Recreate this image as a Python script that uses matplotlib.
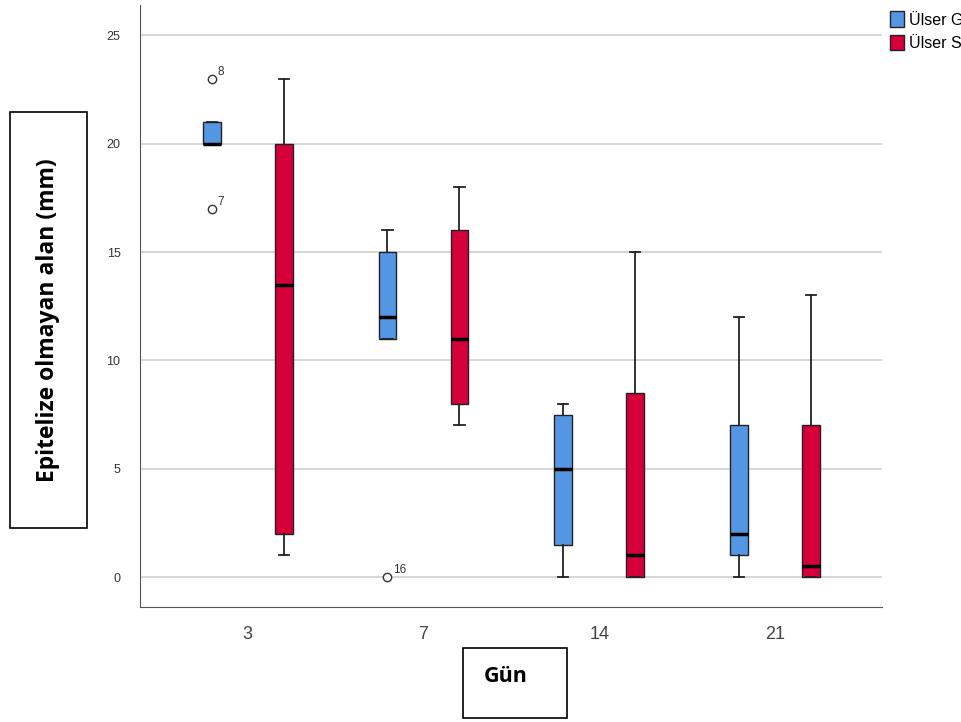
import numpy as np
import matplotlib.pyplot as plt
from matplotlib.patches import Patch, Rectangle

plt.rcParams['font.family'] = ['Liberation Sans', 'DejaVu Sans']

days = ["3", "7", "14", "21"]
groups = ["Ülser G", "Ülser S"]
colors = ["#5596e3", "#d5003a"]

# box stats per day: [G, S]  (whislo, q1, med, q3, whishi)
whislo = [[20, 1], [11, 7], [0, 0], [0, 0]]
q1 = [[20, 2], [11, 8], [1.5, 0], [1, 0]]
med = [[20, 13.5], [12, 11], [5, 1], [2, 0.5]]
q3 = [[21, 20], [15, 16], [7.5, 8.5], [7, 7]]
whishi = [[21, 23], [16, 18], [8, 15], [12, 13]]
fliers = [[[23, 17], []], [[0], []], [[], []], [[], []]]
flier_ids = [[["8", "7"], []], [["16"], []], [[], []], [[], []]]

fig = plt.figure(figsize=(9.62, 7.22), dpi=100)
ax = fig.add_axes([0.1455, 0.1593, 0.7713, 0.8337])

off = 0.205
for i in range(len(days)):
    for g in range(2):
        pos = i - off if g == 0 else i + off
        st = dict(whislo=whislo[i][g], q1=q1[i][g], med=med[i][g], q3=q3[i][g],
                  whishi=whishi[i][g], fliers=fliers[i][g])
        ax.bxp([st], positions=[pos], widths=0.1, patch_artist=True,
               showfliers=True,
               boxprops=dict(facecolor=colors[g], edgecolor="#222222", linewidth=1),
               medianprops=dict(color="black", linewidth=2.5),
               whiskerprops=dict(color="#222222", linewidth=1.3),
               capprops=dict(color="#222222", linewidth=1.3),
               capwidths=0.06,
               flierprops=dict(marker="o", markersize=6, markerfacecolor="white",
                               markeredgecolor="#333333", markeredgewidth=1),
               zorder=3)
        for v, lab in zip(fliers[i][g], flier_ids[i][g]):
            ax.annotate(lab, (pos, v), xytext=(4, 3), textcoords="offset points",
                        fontsize=8.5, color="#333333")

ax.set_xlim(-0.614, 3.61)
ax.set_ylim(-1.38, 26.4)
ax.set_xticks(range(len(days)))
ax.set_xticklabels(days, fontsize=13, color="#444444")
ax.set_yticks([0, 5, 10, 15, 20, 25])
ax.tick_params(axis="y", labelsize=9, labelcolor="#333333", length=0, pad=14)
ax.tick_params(axis="x", length=0, pad=14)
ax.yaxis.grid(True, color="#cfcfcf", linewidth=1.2)
ax.set_axisbelow(True)
for s in ["top", "right"]:
    ax.spines[s].set_visible(False)
for s in ["left", "bottom"]:
    ax.spines[s].set_color("#555555")

# y label box
fig.patches.append(Rectangle((0.0104, 0.2687), 0.080, 0.576, transform=fig.transFigure,
                             fill=False, edgecolor="black", linewidth=1.2))
fig.text(0.0499, 0.5568, "Epitelize olmayan alan (mm)", rotation=90, ha="center",
         va="center", fontsize=16.5, fontweight="bold", family="Open Sans")

# x label box
fig.patches.append(Rectangle((0.4813, 0.0055), 0.1081, 0.097, transform=fig.transFigure,
                             fill=False, edgecolor="black", linewidth=1.2))
fig.text(0.526, 0.0637, "Gün", ha="center", va="center", fontsize=15.5,
         fontweight="bold", family="Open Sans")

handles = [Patch(facecolor=c, edgecolor="#222222", label=l) for c, l in zip(colors, groups)]
fig.legend(handles=handles, loc="upper left", bbox_to_anchor=(0.919, 0.993), frameon=False,
           fontsize=11.5, handlelength=0.85, handleheight=1.1, handletextpad=0.3,
           labelspacing=0.45, borderaxespad=0)

fig.savefig("out.png", dpi=100)
